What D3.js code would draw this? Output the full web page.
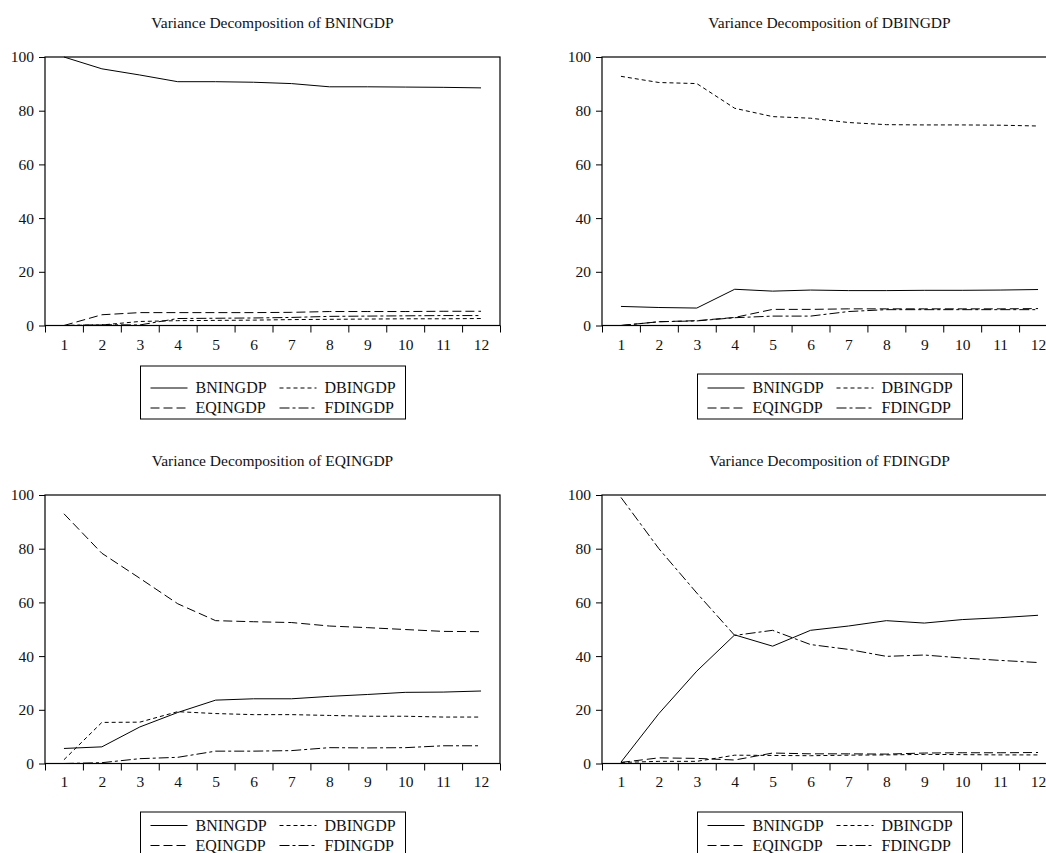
<!DOCTYPE html>
<html>
<head>
<meta charset="utf-8">
<script src="https://cdn.jsdelivr.net/npm/d3@7"></script>
<style>
	body { margin: 0; background: #fff; }
	svg text { font-family: "Liberation Serif", "Times New Roman", serif; fill: #111; }
</style>
</head>
<body>
<svg id="vd" width="1046" height="853"></svg>
<script>
// horizons
let periods = [1, 2, 3, 4, 5, 6, 7, 8, 9, 10, 11, 12];
let seriesNames = ["BNINGDP", "DBINGDP", "EQINGDP", "FDINGDP"];
let yTicks = [0, 20, 40, 60, 80, 100];

// Variance Decomposition of BNINGDP
let bnOfBn = [100, 95.6, 93.3, 90.8, 90.8, 90.6, 90.1, 88.9, 88.9, 88.8, 88.7, 88.5];
let dbOfBn = [0, 0.2, 1.5, 1.8, 1.9, 2.0, 2.2, 2.3, 2.4, 2.5, 2.5, 2.6];
let eqOfBn = [0, 4.0, 4.8, 4.8, 4.8, 4.8, 4.9, 5.2, 5.2, 5.2, 5.3, 5.3];
let fdOfBn = [0, 0.3, 0.2, 2.6, 2.7, 2.8, 3.0, 3.4, 3.5, 3.6, 3.7, 3.7];

// Variance Decomposition of DBINGDP
let bnOfDb = [7.1, 6.7, 6.5, 13.5, 12.8, 13.2, 13.0, 13.0, 13.1, 13.1, 13.2, 13.4];
let dbOfDb = [92.8, 90.5, 90.1, 80.9, 77.8, 77.2, 75.6, 74.8, 74.7, 74.7, 74.6, 74.3];
let eqOfDb = [0, 1.4, 1.8, 3.0, 6.0, 6.0, 6.2, 6.2, 6.2, 6.2, 6.2, 6.3];
let fdOfDb = [0, 1.4, 1.7, 2.9, 3.5, 3.5, 5.2, 5.9, 5.9, 5.9, 5.9, 5.9];

// Variance Decomposition of EQINGDP
let bnOfEq = [5.6, 6.2, 13.6, 19.0, 23.6, 24.1, 24.1, 25.0, 25.7, 26.5, 26.6, 27.0];
let dbOfEq = [1.4, 15.3, 15.4, 19.3, 18.6, 18.2, 18.2, 17.9, 17.6, 17.6, 17.3, 17.3];
let eqOfEq = [93.0, 78.3, 69.0, 59.5, 53.2, 52.8, 52.5, 51.2, 50.6, 49.9, 49.2, 49.1];
let fdOfEq = [0, 0.3, 1.8, 2.3, 4.6, 4.6, 4.8, 5.9, 5.8, 5.9, 6.6, 6.6];

// Variance Decomposition of FDINGDP
let bnOfFd = [0.5, 18.6, 34.4, 47.9, 43.7, 49.6, 51.2, 53.2, 52.3, 53.6, 54.3, 55.2];
let dbOfFd = [0.4, 0.8, 0.8, 3.1, 3.0, 2.9, 3.1, 3.2, 3.4, 3.3, 3.2, 3.2];
let eqOfFd = [0.4, 2.1, 1.9, 1.3, 3.9, 3.6, 3.6, 3.5, 3.9, 4.0, 4.0, 4.1];
let fdOfFd = [99.1, 80.0, 63.5, 47.7, 49.6, 44.3, 42.5, 39.9, 40.4, 39.3, 38.4, 37.6];

let dashes = ["none", "4,3", "9,4", "10,3,3,3"];

let panels = [
	{title: "Variance Decomposition of BNINGDP", left: 45, top: 57, titleY: 28, labelY: 350, legendTop: 366, legendBottom: 419, rowY: 22,
		series: [bnOfBn, dbOfBn, eqOfBn, fdOfBn]},
	{title: "Variance Decomposition of DBINGDP", left: 602, top: 57, titleY: 28, labelY: 350, legendTop: 374, legendBottom: 419, rowY: 14,
		series: [bnOfDb, dbOfDb, eqOfDb, fdOfDb]},
	{title: "Variance Decomposition of EQINGDP", left: 45, top: 495, titleY: 466, labelY: 787, legendTop: 812, legendBottom: 870, rowY: 13.5,
		series: [bnOfEq, dbOfEq, eqOfEq, fdOfEq]},
	{title: "Variance Decomposition of FDINGDP", left: 602, top: 495, titleY: 466, labelY: 787, legendTop: 812, legendBottom: 870, rowY: 13.5,
		series: [bnOfFd, dbOfFd, eqOfFd, fdOfFd]}
];

let width = 455;
let height = 268.5;
let svg = d3.select("svg#vd");

panels.forEach(function(p) {
	let g = svg.append("g").attr("transform", "translate(" + p.left + "," + p.top + ")");

	let x = d3.scaleLinear().domain([0.5, 12.5]).range([0, width]);
	let y = d3.scaleLinear().domain([0, 100]).range([height, 0]);

	svg.append("text")
		.attr("x", p.left + width / 2)
		.attr("y", p.titleY)
		.attr("text-anchor", "middle")
		.style("font-size", "15.5px")
		.text(p.title);

	// y axis
	let yAxis = g.append("g")
		.call(d3.axisLeft(y).tickValues(yTicks).tickSize(6).tickPadding(5));
	yAxis.select(".domain").remove();
	yAxis.selectAll("text").style("font-size", "15.5px").style("font-family", "Liberation Serif");

	// x ticks at period boundaries
	let xTicks = g.append("g")
		.attr("transform", "translate(0," + height + ")")
		.call(d3.axisBottom(x).tickValues(d3.range(0.5, 13, 1)).tickSize(7).tickFormat(""));
	xTicks.select(".domain").remove();

	let xLabels = g.append("g")
		.attr("transform", "translate(0," + height + ")")
		.call(d3.axisBottom(x).tickValues(periods).tickSize(0).tickFormat(d3.format("d")));
	xLabels.select(".domain").remove();
	xLabels.selectAll("text")
		.attr("y", p.labelY - p.top - height)
		.attr("dy", 0)
		.style("font-size", "15.5px")
		.style("font-family", "Liberation Serif");

	g.append("rect")
		.attr("width", width)
		.attr("height", height)
		.attr("fill", "none")
		.attr("stroke", "#000")
		.attr("stroke-width", 1.2);

	let line = d3.line()
		.x((d, i) => x(periods[i]))
		.y((d) => y(d));

	g.selectAll("path.series")
		.data(p.series)
		.enter().append("path")
		.attr("class", "series")
		.attr("d", line)
		.attr("fill", "none")
		.attr("stroke", "#000")
		.attr("stroke-width", 1)
		.attr("stroke-dasharray", (d, i) => dashes[i]);

	// legend
	let lx = p.left + width / 2 - 132;
	let lg = svg.append("g").attr("transform", "translate(" + lx + "," + p.legendTop + ")");
	lg.append("rect")
		.attr("width", 265)
		.attr("height", p.legendBottom - p.legendTop)
		.attr("fill", "#fff")
		.attr("stroke", "#000")
		.attr("stroke-width", 1);

	seriesNames.forEach(function(name, i) {
		let col = i % 2;
		let row = Math.floor(i / 2);
		let cy = p.rowY + row * 20;
		let sx = col == 0 ? 10 : 139;
		lg.append("line")
			.attr("x1", sx).attr("x2", sx + 37)
			.attr("y1", cy).attr("y2", cy)
			.attr("stroke", "#000")
			.attr("stroke-width", 1)
			.attr("stroke-dasharray", dashes[i]);
		lg.append("text")
			.attr("x", sx + 45)
			.attr("y", cy + 5)
			.style("font-size", "16px")
			.text(name);
	});
});
</script>
</body>
</html>
